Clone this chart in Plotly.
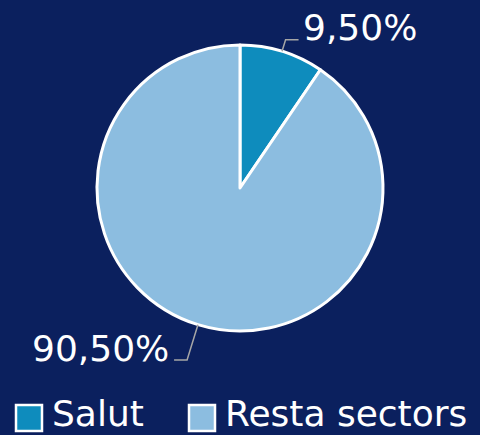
import math
import plotly.graph_objects as go

categories = ["Salut", "Resta sectors"]
values = [9.5, 90.5]
value_labels = ["9,50%", "90,50%"]

colors = ["#0e8cbd", "#8cbde0"]
bg = "#0b205e"
W, H = 480, 435
cx, cy, R = 240, 188, 143   # pie geometry in pixels
FONT = "DejaVu Sans"
FS = 36

def px(x):
    return x / W

def py(y):
    return 1 - y / H

fig = go.Figure(go.Pie(
    labels=categories, values=values, sort=False, direction="clockwise", rotation=0,
    marker=dict(colors=colors, line=dict(color="white", width=3)),
    textinfo="none", hoverinfo="label+percent", showlegend=False,
    domain=dict(x=[px(cx - R), px(cx + R)], y=[py(cy + R), py(cy - R)]),
))

# labels with elbow leader lines, positioned from each slice's mid angle
total = sum(values)
cum = 0
elbow_r = [155, 180]
hseg = 13
for i, v in enumerate(values):
    mid = (cum + v / 2) / total * 2 * math.pi
    cum += v
    sx, sy = cx + R * math.sin(mid), cy - R * math.cos(mid)
    ex, ey = cx + elbow_r[i] * math.sin(mid), cy - elbow_r[i] * math.cos(mid)
    right = math.sin(mid) >= 0
    hx = ex + hseg if right else ex - hseg
    fig.add_shape(type="path",
                  path=f"M {px(sx)},{py(sy)} L {px(ex)},{py(ey)} L {px(hx)},{py(ey)}",
                  xref="paper", yref="paper", line=dict(color="#a6a6a6", width=1.5))
    fig.add_annotation(x=px(hx + (2 if right else -3)), y=py(ey - 12), xref="paper", yref="paper",
                       text=value_labels[i], showarrow=False,
                       xanchor="left" if right else "right", yanchor="middle",
                       font=dict(family=FONT, size=FS, color="white"))

# custom legend
leg_x = [16, 189]
sq_top, sq = 405, 26
for i, name in enumerate(categories):
    x0 = leg_x[i]
    fig.add_shape(type="rect", xref="paper", yref="paper",
                  x0=px(x0), x1=px(x0 + sq), y0=py(sq_top + sq), y1=py(sq_top),
                  fillcolor=colors[i], line=dict(color="white", width=2.5))
    fig.add_annotation(x=px(x0 + sq + 9), y=0, xref="paper", yref="paper",
                       text=name, showarrow=False, xanchor="left", yanchor="bottom",
                       borderpad=0, font=dict(family=FONT, size=FS, color="white"))

fig.update_layout(width=W, height=H, margin=dict(l=0, r=0, t=0, b=0),
                  paper_bgcolor=bg, plot_bgcolor=bg)
fig.write_html("out.html", config={"displayModeBar": False},
               post_script="document.body.style.margin='0';document.body.style.overflow='hidden';")
